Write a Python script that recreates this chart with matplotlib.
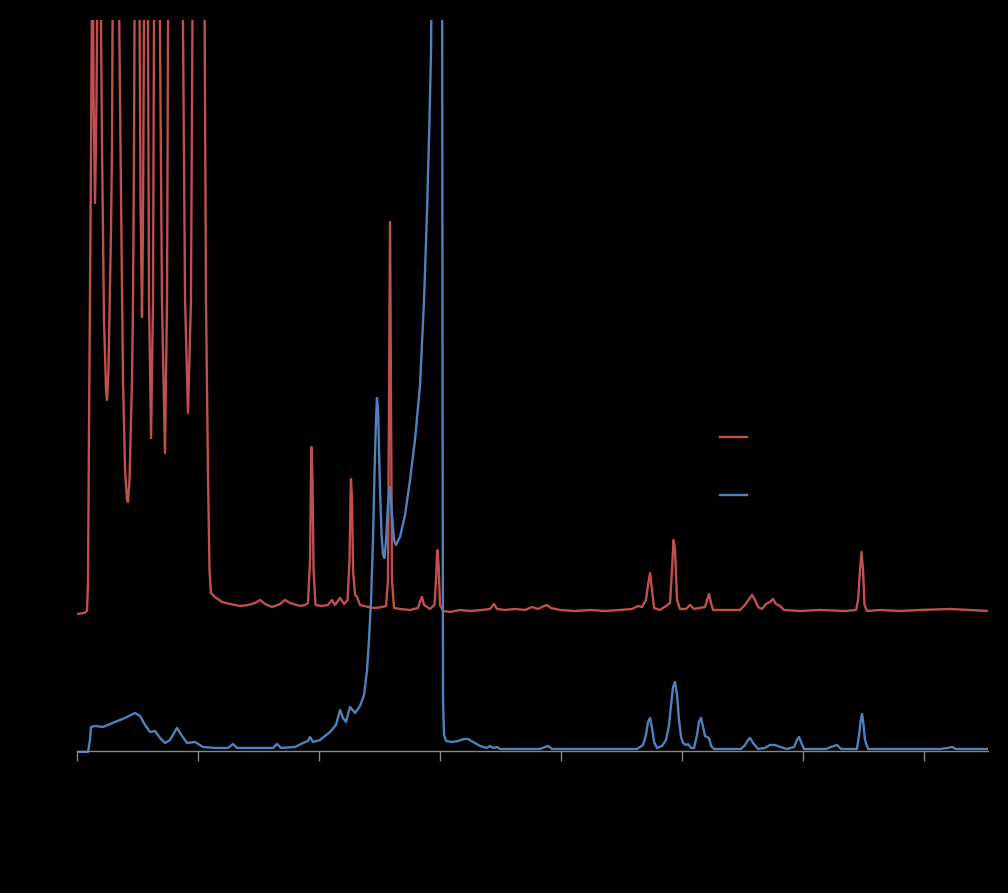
import numpy as np
import matplotlib
matplotlib.use("Agg")
import matplotlib.pyplot as plt

# Trace 1 (upper, red); peaks above 7.31 are clipped
red_x = [0.000, 0.058, 0.083, 0.091, 0.099, 0.107, 0.116, 0.128, 0.137, 0.149, 0.161, 0.174,
         0.190, 0.207, 0.223, 0.240, 0.248, 0.260, 0.273, 0.281, 0.289, 0.298, 0.339, 0.364,
         0.380, 0.397, 0.413, 0.421, 0.434, 0.446, 0.455, 0.463, 0.471, 0.479, 0.512, 0.525,
         0.537, 0.545, 0.558, 0.583, 0.595, 0.612, 0.628, 0.640, 0.678, 0.702, 0.727, 0.744,
         0.756, 0.868, 0.893, 0.917, 0.942, 0.959, 1.050, 1.066, 1.083, 1.095, 1.107, 1.140,
         1.198, 1.264, 1.347, 1.413, 1.471, 1.512, 1.554, 1.612, 1.678, 1.719, 1.760, 1.843,
         1.884, 1.909, 1.926, 1.934, 1.938, 1.946, 1.955, 1.971, 2.025, 2.074, 2.107, 2.132,
         2.174, 2.207, 2.236, 2.252, 2.260, 2.264, 2.273, 2.281, 2.298, 2.314, 2.339, 2.405,
         2.463, 2.521, 2.554, 2.570, 2.579, 2.587, 2.595, 2.603, 2.620, 2.669, 2.752, 2.818,
         2.839, 2.851, 2.868, 2.917, 2.954, 2.967, 2.975, 2.979, 2.988, 3.000, 3.025, 3.083,
         3.165, 3.248, 3.347, 3.413, 3.446, 3.471, 3.537, 3.620, 3.702, 3.760, 3.810, 3.860,
         3.884, 3.917, 3.992, 4.116, 4.240, 4.364, 4.488, 4.587, 4.636, 4.669, 4.702, 4.719,
         4.736, 4.752, 4.769, 4.818, 4.868, 4.901, 4.917, 4.930, 4.942, 4.959, 4.983, 5.033,
         5.066, 5.099, 5.190, 5.207, 5.223, 5.240, 5.256, 5.355, 5.479, 5.521, 5.554, 5.579,
         5.603, 5.628, 5.661, 5.694, 5.727, 5.752, 5.777, 5.810, 5.843, 5.975, 6.140, 6.347,
         6.438, 6.455, 6.471, 6.483, 6.496, 6.508, 6.529, 6.636, 6.802, 6.967, 7.215, 7.380,
         7.529]
red_y = [1.37, 1.38, 1.40, 1.71, 3.21, 4.51, 6.01, 8.50, 6.51, 5.48, 6.51, 8.50,
         8.50, 6.01, 4.31, 3.61, 3.51, 3.81, 4.71, 5.21, 6.01, 8.50, 8.50, 5.51,
         3.71, 2.81, 2.51, 2.49, 2.71, 3.31, 3.74, 4.51, 6.01, 8.50, 8.50, 5.51,
         4.34, 5.21, 8.50, 8.50, 4.51, 3.13, 4.51, 8.50, 8.50, 4.51, 2.98, 4.51,
         8.50, 8.50, 4.51, 3.38, 4.51, 8.50, 8.50, 4.51, 2.71, 1.81, 1.58, 1.54,
         1.49, 1.47, 1.45, 1.46, 1.48, 1.51, 1.47, 1.44, 1.47, 1.51, 1.48, 1.45,
         1.46, 1.48, 1.91, 2.81, 3.04, 2.71, 1.81, 1.46, 1.45, 1.46, 1.51, 1.46,
         1.53, 1.47, 1.51, 1.91, 2.51, 2.72, 2.51, 1.81, 1.56, 1.54, 1.46, 1.44,
         1.43, 1.44, 1.45, 1.71, 3.51, 5.29, 3.51, 1.71, 1.43, 1.42, 1.41, 1.43,
         1.51, 1.54, 1.46, 1.42, 1.46, 1.71, 1.96, 2.01, 1.86, 1.46, 1.40, 1.39,
         1.41, 1.40, 1.41, 1.42, 1.47, 1.42, 1.41, 1.42, 1.41, 1.44, 1.42, 1.45,
         1.46, 1.43, 1.41, 1.40, 1.41, 1.40, 1.41, 1.42, 1.45, 1.44, 1.51, 1.66,
         1.78, 1.61, 1.43, 1.41, 1.45, 1.48, 1.81, 2.11, 2.01, 1.51, 1.42, 1.42,
         1.46, 1.42, 1.44, 1.51, 1.57, 1.48, 1.41, 1.41, 1.41, 1.46, 1.52, 1.56,
         1.51, 1.44, 1.42, 1.47, 1.49, 1.52, 1.47, 1.45, 1.41, 1.40, 1.41, 1.40,
         1.41, 1.51, 1.81, 1.99, 1.81, 1.46, 1.40, 1.41, 1.40, 1.41, 1.42, 1.41,
         1.40]

# Trace 2 (lower, blue)
blue_x = [0.000, 0.091, 0.107, 0.116, 0.149, 0.215, 0.314, 0.397, 0.479, 0.521, 0.562, 0.603,
          0.645, 0.686, 0.727, 0.769, 0.826, 0.868, 0.909, 0.975, 1.041, 1.140, 1.248, 1.289,
          1.322, 1.512, 1.620, 1.653, 1.686, 1.802, 1.868, 1.909, 1.926, 1.950, 2.008, 2.091,
          2.140, 2.174, 2.198, 2.223, 2.256, 2.298, 2.339, 2.372, 2.397, 2.413, 2.430, 2.446,
          2.459, 2.471, 2.479, 2.488, 2.496, 2.504, 2.517, 2.529, 2.541, 2.554, 2.570, 2.587,
          2.603, 2.620, 2.636, 2.669, 2.711, 2.752, 2.793, 2.835, 2.868, 2.893, 2.913, 2.926,
          2.934, 3.017, 3.021, 3.025, 3.033, 3.050, 3.099, 3.149, 3.198, 3.231, 3.273, 3.331,
          3.388, 3.413, 3.438, 3.471, 3.496, 3.661, 3.826, 3.868, 3.893, 3.926, 4.157, 4.405,
          4.628, 4.678, 4.702, 4.719, 4.736, 4.752, 4.769, 4.793, 4.835, 4.868, 4.893, 4.909,
          4.926, 4.942, 4.959, 4.975, 4.992, 5.008, 5.033, 5.050, 5.074, 5.099, 5.124, 5.140,
          5.157, 5.174, 5.190, 5.207, 5.223, 5.240, 5.264, 5.397, 5.488, 5.521, 5.545, 5.562,
          5.587, 5.628, 5.686, 5.727, 5.769, 5.810, 5.868, 5.926, 5.950, 5.967, 5.983, 6.008,
          6.099, 6.190, 6.231, 6.281, 6.314, 6.446, 6.463, 6.475, 6.488, 6.500, 6.512, 6.537,
          6.802, 7.132, 7.198, 7.231, 7.264, 7.529]
blue_y = [-0.01, -0.01, 0.11, 0.24, 0.25, 0.24, 0.29, 0.33, 0.38, 0.35, 0.26, 0.19,
          0.20, 0.13, 0.08, 0.11, 0.23, 0.15, 0.08, 0.09, 0.04, 0.03, 0.03, 0.07,
          0.03, 0.03, 0.03, 0.07, 0.03, 0.04, 0.08, 0.10, 0.14, 0.09, 0.11, 0.19,
          0.26, 0.41, 0.33, 0.29, 0.44, 0.38, 0.45, 0.56, 0.81, 1.11, 1.51, 2.11,
          2.81, 3.31, 3.53, 3.41, 3.01, 2.61, 2.16, 1.96, 1.93, 2.11, 2.46, 2.64,
          2.36, 2.11, 2.06, 2.14, 2.36, 2.71, 3.11, 3.66, 4.51, 5.41, 6.31, 7.01,
          8.50, 8.50, 3.51, 0.51, 0.16, 0.10, 0.09, 0.10, 0.12, 0.12, 0.09, 0.05,
          0.03, 0.05, 0.03, 0.04, 0.02, 0.02, 0.02, 0.04, 0.05, 0.02, 0.02, 0.02,
          0.02, 0.06, 0.16, 0.29, 0.33, 0.23, 0.09, 0.03, 0.05, 0.11, 0.26, 0.46,
          0.64, 0.69, 0.56, 0.31, 0.14, 0.08, 0.06, 0.07, 0.03, 0.03, 0.16, 0.29,
          0.33, 0.24, 0.15, 0.14, 0.13, 0.05, 0.02, 0.02, 0.02, 0.06, 0.11, 0.13,
          0.08, 0.02, 0.03, 0.06, 0.06, 0.04, 0.02, 0.04, 0.11, 0.14, 0.09, 0.02,
          0.02, 0.02, 0.04, 0.06, 0.02, 0.02, 0.16, 0.29, 0.37, 0.26, 0.11, 0.02,
          0.02, 0.02, 0.03, 0.04, 0.02, 0.02]

x_ticks = [0, 1, 2, 3, 4, 5, 6, 7]
series_names = ["Sample A", "Sample B"]

red = "#C0504D"
blue = "#4F81BD"
axis_gray = "#868686"

fig = plt.figure(figsize=(10.08, 8.93), dpi=100, facecolor="black")
ax = fig.add_axes([0.0764, 0.1568, 0.9038, 0.8208])
ax.set_facecolor("black")

ax.plot(red_x, red_y, color=red, lw=1.7, label=series_names[0], solid_joinstyle="round")
ax.plot(blue_x, blue_y, color=blue, lw=1.7, label=series_names[1], solid_joinstyle="round")

ax.set_xlim(0, 7.529)
ax.set_ylim(-0.02, 7.31)

for side in ["left", "right", "top"]:
    ax.spines[side].set_visible(False)
ax.spines["bottom"].set_position(("data", 0))
ax.spines["bottom"].set_color(axis_gray)
ax.spines["bottom"].set_linewidth(1.0)

ax.set_xticks(x_ticks)
ax.set_xticklabels([str(t) for t in x_ticks], color="black")
ax.tick_params(axis="x", direction="out", length=7.5, width=1.0, color=axis_gray)
ax.set_yticks([])

leg = ax.legend(loc="center left", bbox_to_anchor=(0.714, 0.477),
                bbox_transform=fig.transFigure, frameon=False,
                handlelength=2.0, labelspacing=3.2, borderpad=0, borderaxespad=0)
for txt in leg.get_texts():
    txt.set_color("black")

fig.savefig("out.png", dpi=100, facecolor="black")
